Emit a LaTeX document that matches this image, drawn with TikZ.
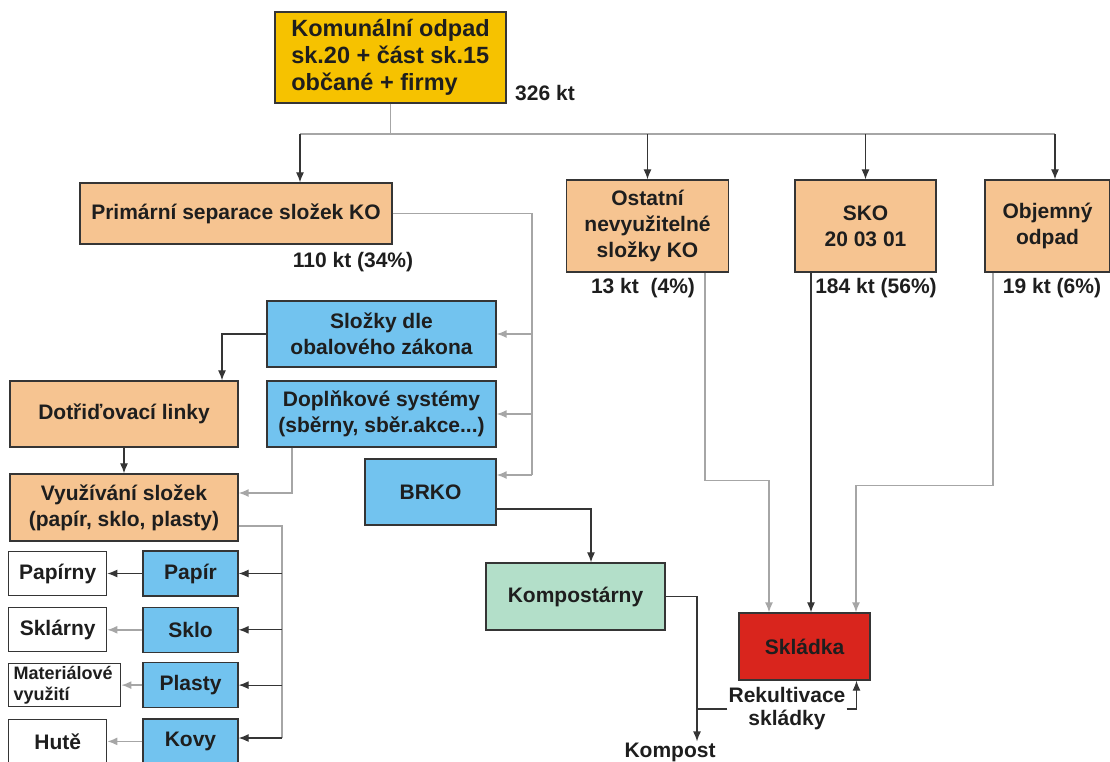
\documentclass[tikz,border=0pt]{standalone}
\usepackage{fontspec}
\setmainfont{Liberation Sans}
\usetikzlibrary{positioning,arrows.meta}

\definecolor{gold}{HTML}{F6C200}
\definecolor{peach}{HTML}{F6C491}
\definecolor{skyblue}{HTML}{72C3EF}
\definecolor{mint}{HTML}{B3DFC9}
\definecolor{brick}{HTML}{D9251D}
\definecolor{ink}{HTML}{1E1E1E}

\tikzset{
  box/.style={rectangle,draw=ink!90,line width=1.3pt,text=ink,align=center,inner sep=2pt,
    font=\fontsize{21}{26}\selectfont\bfseries},
  orangebox/.style={box,fill=peach},
  bluebox/.style={box,fill=skyblue},
  whitebox/.style={box,fill=white},
  amount/.style={text=ink,inner sep=1pt,font=\fontsize{21}{25}\selectfont\bfseries},
  conn/.style={draw=ink!90,line width=1.2pt},
  connlight/.style={draw=black!35,line width=1.5pt},
  arr/.style={-{Latex[length=10pt,width=8pt]}},
}

\begin{document}
\begin{tikzpicture}[x=1pt,y=-1pt]
  \useasboundingbox (0,0) rectangle (1110,761);
  % top
  \node(komunal)[box,fill=gold,align=left,minimum width=231pt,minimum height=91pt,
    font=\fontsize{23.5}{27}\selectfont\bfseries] at (390.5,57.5)
    {Komunální odpad\\sk.20 + část sk.15\\občané + firmy};
  \node(kt326)[amount] at (545,93){326 kt};
  % second row
  \node(primarni)[orangebox,minimum width=312pt,minimum height=61pt] at (236,213.5){Primární separace složek KO};
  \node(kt110)[amount] at (353,262){110 kt (34\%)};
  \node(ostatni)[orangebox,minimum width=162pt,minimum height=92pt] at (647.5,226){Ostatní\\nevyužitelné\\složky KO};
  \node(kt13)[amount] at (643,288){13 kt~~(4\%)};
  \node(sko)[orangebox,minimum width=141pt,minimum height=92pt] at (865.5,226){SKO\\20 03 01};
  \node(kt184)[amount] at (876,288){184 kt (56\%)};
  \node(objemny)[orangebox,minimum width=125pt,minimum height=92pt] at (1047.5,226){Objemný\\odpad};
  \node(kt19)[amount] at (1052,288){19 kt (6\%)};
  % separation
  \node(slozky)[bluebox,minimum width=229pt,minimum height=66pt] at (381.5,334){Složky dle\\obalového zákona};
  \node(doplnkove)[bluebox,minimum width=229pt,minimum height=66pt] at (381.5,414){Doplňkové systémy\\(sběrny, sběr.akce...)};
  \node(brko)[bluebox,minimum width=131pt,minimum height=66pt] at (430.5,492){BRKO};
  \node(dotridovaci)[orangebox,minimum width=228pt,minimum height=66pt] at (124,414){Dotřiďovací linky};
  \node(vyuzivani)[orangebox,minimum width=228pt,minimum height=67pt] at (124,507.5){Využívání složek\\(papír, sklo, plasty)};
  % materials
  \node(papir)[bluebox,minimum width=95pt,minimum height=45pt] at (190.5,573.5){Papír};
  \node(sklo)[bluebox,minimum width=95pt,minimum height=45pt,below=10pt of papir]{Sklo};
  \node(plasty)[bluebox,minimum width=95pt,minimum height=45pt,below=9pt of sklo]{Plasty};
  \node(kovy)[bluebox,minimum width=95pt,minimum height=45pt,below=10pt of plasty]{Kovy};
  \node(papirny)[whitebox,minimum width=98pt,minimum height=44pt,left=35pt of papir]{Papírny};
  \node(sklarny)[whitebox,minimum width=98pt,minimum height=44pt,left=35pt of sklo]{Sklárny};
  \node(materialove)[whitebox,align=left,minimum width=112pt,minimum height=43pt,left=21pt of plasty,
    font=\fontsize{18}{21}\selectfont\bfseries]{Materiálové\\využití\hspace*{46pt}};
  \node(hute)[whitebox,minimum width=98pt,minimum height=44pt,left=35pt of kovy]{Hutě};
  % end points
  \node(kompostarny)[box,fill=mint,minimum width=179pt,minimum height=67pt] at (575.5,596.5){Kompostárny};
  \node(skladka)[box,fill=brick,minimum width=131pt,minimum height=67pt] at (804.5,646.5){Skládka};
  \node(rekult)[amount,align=center,font=\fontsize{21}{23}\selectfont\bfseries] at (787,709){Rekultivace\\skládky};
  \node(kompost)[amount] at (670,752){Kompost};
  \coordinate(busL) at (300,134);
  \coordinate(busR) at (1055,134);
  \coordinate(sepbus) at (532,475);
  \coordinate(matbus) at (282,738);
  \coordinate(kompjoin) at (697,709);
\draw[connlight](komunal.south)--(komunal.south |- busL);
\draw[connlight](busL)--(busR);
\draw[conn,arr](busL)--(busL |- primarni.north);
\draw[conn,arr](ostatni.north |- busL)--(ostatni);
\draw[conn,arr](sko.north |- busL)--(sko);
\draw[conn,arr](busR)--(busR |- objemny.north);
\draw[connlight](primarni.east)-|(sepbus);
\draw[connlight,arr](sepbus |- slozky)--(slozky);
\draw[connlight,arr](sepbus |- doplnkove)--(doplnkove);
\draw[connlight,arr](sepbus)--(sepbus -| brko.east);
\draw[conn,arr](slozky.west)-|([xshift=98pt]dotridovaci.north);
\draw[conn,arr](dotridovaci)--(vyuzivani);
\draw[connlight,arr]([xshift=-89.5pt]doplnkove.south)|-([yshift=14.5pt]vyuzivani.east);
\draw[connlight]([yshift=-18.5pt]vyuzivani.east)-|(matbus);
\draw[conn,arr](matbus |- papir)--(papir);
\draw[conn,arr](matbus |- sklo)--(sklo);
\draw[conn,arr](matbus |- plasty)--(plasty);
\draw[conn,arr](matbus)--(matbus -| kovy.east);
\draw[conn,arr](papir)--(papirny);
\draw[connlight,arr](sklo)--(sklarny);
\draw[connlight,arr](plasty)--(materialove);
\draw[connlight,arr](kovy)--(hute);
\draw[conn,arr]([yshift=-17pt]brko.east)-|([xshift=15.5pt]kompostarny.north);
\draw[conn,arr](kompostarny.east)-|([xshift=27pt]kompost.north);
\draw[conn](rekult)--(kompjoin);
\draw[conn,arr](rekult.east)-|([xshift=52pt]skladka.south);
\draw[connlight,arr]([xshift=57.5pt]ostatni.south)--++(0,208)-|([xshift=-35.5pt]skladka.north);
\draw[conn,arr]([xshift=-54.5pt]sko.south)--([xshift=6.5pt]skladka.north);
\draw[connlight,arr]([xshift=-54.5pt]objemny.south)--++(0,213)-|([xshift=51.5pt]skladka.north);
\end{tikzpicture}
\end{document}
